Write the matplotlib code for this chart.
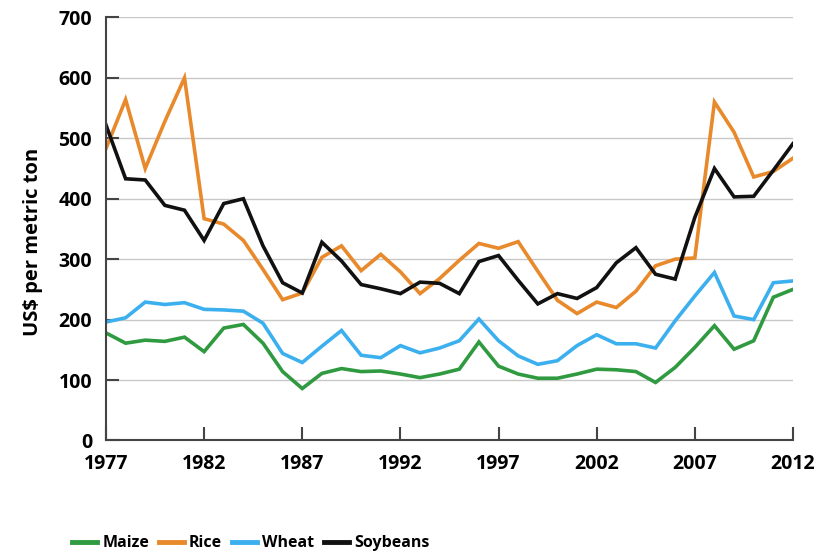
import matplotlib.pyplot as plt

years = list(range(1977, 2013))

maize = [178, 161, 166, 164, 171, 147, 186, 192, 161, 114, 86, 111, 119, 114,
         115, 110, 104, 110, 118, 163, 123, 110, 103, 103, 110,
         118, 117, 114, 96, 121, 154, 190, 151, 165, 237, 250]
rice = [483, 564, 450, 528, 600, 367, 358, 331, 283, 233, 244, 303, 322, 281,
        308, 279, 243, 268, 298, 326, 318, 329, 280, 232, 210,
        229, 220, 247, 289, 300, 302, 560, 510, 436, 445, 467]
wheat = [196, 203, 229, 225, 228, 217, 216, 214, 194, 144, 129, 156, 182, 141,
         137, 157, 145, 153, 165, 201, 165, 140, 126, 132, 157,
         175, 160, 160, 153, 198, 239, 278, 206, 200, 261, 264]
soybeans = [522, 433, 431, 389, 381, 331, 392, 400, 322, 261, 244, 328, 297, 258,
            251, 243, 262, 260, 243, 296, 306, 265, 226, 243, 235,
            253, 294, 319, 275, 267, 369, 450, 403, 404, 447, 491]

series = [("Maize", maize, "#2f9a3f"), ("Rice", rice, "#e8892b"),
          ("Wheat", wheat, "#3cb0ef"), ("Soybeans", soybeans, "#111111")]

plt.rcParams['font.family'] = ['Open Sans', 'DejaVu Sans']
plt.rcParams['font.weight'] = 'bold'

fig = plt.figure(figsize=(8.19, 5.52), dpi=100)
ax = fig.add_axes([0.1294, 0.202, 0.8388, 0.7665])

for name, vals, col in series:
    ax.plot(years, vals, color=col, lw=2.6, label=name, solid_joinstyle='miter')

ax.set_xlim(1977, 2012)
ax.set_ylim(0, 700)
ax.set_xticks(range(1977, 2013, 5))
ax.set_yticks(range(0, 701, 100))
ax.yaxis.grid(True, color='#c8c8c8', lw=1)
ax.set_axisbelow(True)
for s in ['top', 'right']:
    ax.spines[s].set_visible(False)
for s in ['left', 'bottom']:
    ax.spines[s].set_color('#444444')
    ax.spines[s].set_linewidth(1.5)
ax.tick_params(axis='both', direction='in', length=9.5, width=1.5, color='#444444',
               pad=10, labelsize=14)
ax.set_ylabel("US$ per metric ton", fontsize=14.5, fontweight='bold')
ax.yaxis.set_label_coords(-0.092, 0.47)

leg = fig.legend(loc='center left', bbox_to_anchor=(0.08, 0.016), ncol=4, frameon=False,
                 fontsize=11.5, handlelength=1.6, handletextpad=0.3, columnspacing=0.6,
                 borderaxespad=0)
for h in leg.legend_handles:
    h.set_linewidth(3.5)

fig.savefig("out.png", dpi=100)
